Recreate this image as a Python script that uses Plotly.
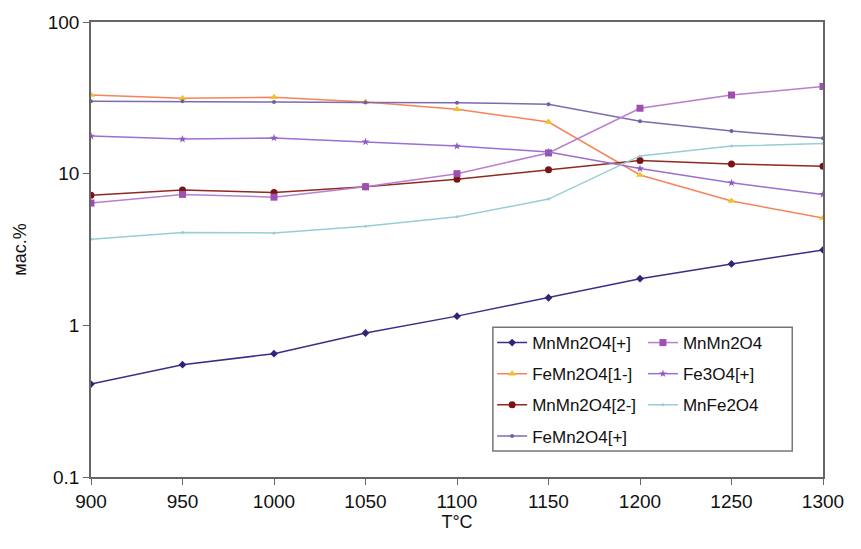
import plotly.graph_objects as go

temps = [900, 950, 1000, 1050, 1100, 1150, 1200, 1250, 1300]

mnmn2o4_plus = [0.41, 0.55, 0.65, 0.89, 1.15, 1.52, 2.03, 2.54, 3.14]
mnmn2o4 = [6.4, 7.3, 7.0, 8.2, 10.0, 13.7, 27.0, 33.0, 37.6]
femn2o4_1minus = [33.0, 31.4, 31.9, 29.7, 26.6, 21.9, 9.8, 6.6, 5.1]
fe3o4_plus = [17.7, 16.9, 17.2, 16.2, 15.2, 13.9, 10.8, 8.7, 7.3]
mnmn2o4_2minus = [7.2, 7.8, 7.5, 8.2, 9.2, 10.6, 12.2, 11.6, 11.2]
mnfe2o4 = [3.7, 4.1, 4.07, 4.5, 5.2, 6.8, 13.1, 15.2, 15.8]
femn2o4_plus = [30.0, 30.0, 29.7, 29.5, 29.4, 28.7, 22.2, 19.1, 17.1]

y_tickvals = [0.1, 1, 10, 100]
y_ticktext = ["0.1", "1", "10", "100"]

FONT = "Liberation Sans, Arial, sans-serif"

series = [
    # name, values, line colour, marker symbol, marker colour, marker size, legend
    ("MnMn2O4[+]", mnmn2o4_plus, "#3b2e86", "diamond", "#2f2576", 6, "legend"),
    ("FeMn2O4[1-]", femn2o4_1minus, "#f5845a", "triangle-up", "#f2c02a", 7, "legend"),
    ("MnMn2O4[2-]", mnmn2o4_2minus, "#8e2a22", "circle", "#7a1414", 7, "legend"),
    ("FeMn2O4[+]", femn2o4_plus, "#7c6bb0", "circle", "#6e5fa8", 4, "legend"),
    ("MnMn2O4", mnmn2o4, "#b87fd0", "square", "#9e4fb0", 7, "legend2"),
    ("Fe3O4[+]", fe3o4_plus, "#9a70d0", "star", "#8a5cc0", 6, "legend2"),
    ("MnFe2O4", mnfe2o4, "#98cdd8", "circle", "#98cdd8", 3, "legend2"),
]

fig = go.Figure()
for i, (name, vals, lc, sym, mc, ms, leg) in enumerate(series):
    fig.add_trace(go.Scatter(
        x=temps, y=vals, name=name, mode="lines+markers",
        line=dict(color=lc, width=1.5),
        marker=dict(symbol=sym, color=mc, size=ms, line=dict(width=0)),
        legend=leg, legendgroup=f"g{i}",
    ))

axis_common = dict(
    showline=True, linecolor="#666666", linewidth=1.5, mirror=True,
    ticks="outside", ticklen=6, tickcolor="#666666", tickwidth=1,
    showgrid=False, zeroline=False,
    tickfont=dict(family=FONT, size=19, color="#111111"),
)

fig.update_xaxes(
    range=[900, 1300], tickvals=temps,
    title=dict(text="T°C", font=dict(family=FONT, size=18, color="#111111"), standoff=5),
    **axis_common,
)
fig.update_yaxes(
    type="log", range=[-1, 2], tickvals=y_tickvals, ticktext=y_ticktext,
    title=dict(text="мас.%", font=dict(family=FONT, size=18, color="#111111"), standoff=16),
    **axis_common,
)

legend_common = dict(
    font=dict(family=FONT, size=17, color="#111111"),
    bgcolor="rgba(0,0,0,0)", borderwidth=0,
    xanchor="left", yanchor="top", tracegroupgap=6,
    itemwidth=30,
)

fig.update_layout(
    width=861, height=549,
    margin=dict(l=91, r=38, t=18, b=72),
    paper_bgcolor="white", plot_bgcolor="white",
    showlegend=True,
    legend=dict(x=0.548, y=0.334, **legend_common),
    legend2=dict(x=0.754, y=0.334, **legend_common),
    shapes=[dict(
        type="rect", xref="paper", yref="paper",
        x0=0.549, x1=0.958, y0=0.057, y1=0.329,
        line=dict(color="#777777", width=1.5), fillcolor="white", layer="above",
    )],
)

fig.write_html("out.html")
